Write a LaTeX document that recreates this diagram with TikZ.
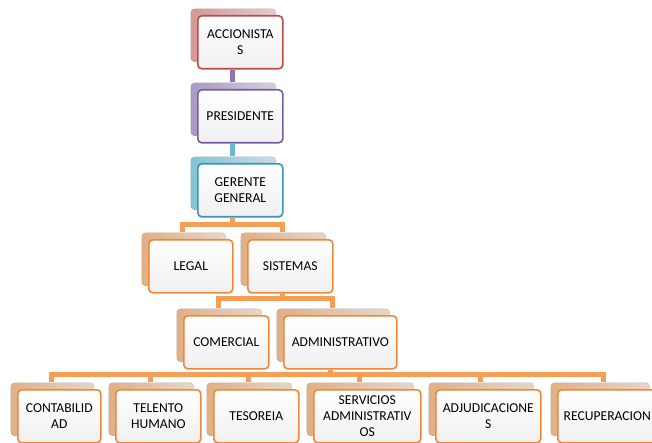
\documentclass[tikz,border=0pt]{standalone}
\usepackage{fontspec}
\setmainfont{Carlito}
\usetikzlibrary{calc,shadows,backgrounds}
\definecolor{redB}{RGB}{190,75,72}
\definecolor{redS1}{RGB}{235,165,165}
\definecolor{redS2}{RGB}{250,225,225}
\definecolor{purB}{RGB}{120,92,160}
\definecolor{purS1}{RGB}{185,168,215}
\definecolor{purS2}{RGB}{235,228,245}
\definecolor{bluB}{RGB}{55,150,185}
\definecolor{bluS1}{RGB}{145,215,235}
\definecolor{bluS2}{RGB}{222,243,250}
\definecolor{oraB}{RGB}{238,135,55}
\definecolor{oraS1}{RGB}{248,192,145}
\definecolor{oraS2}{RGB}{253,236,218}
\definecolor{purC}{RGB}{145,115,185}
\definecolor{bluC}{RGB}{105,185,215}
\definecolor{oraC}{RGB}{245,158,85}
\begin{document}
\begin{tikzpicture}[x=1pt,y=-1pt,
  box/.style n args={3}{draw=#1, line width=1.6pt, rounded corners=4pt,
    top color=white, bottom color=black!6, align=center,
    font=\fontsize{13.6}{16}\selectfont, inner sep=1pt, anchor=north west,
    minimum width=85pt, minimum height=53pt,
    copy shadow={shadow xshift=-7pt, shadow yshift=7pt, draw=none,
      left color=#2, right color=#3, opacity=0.9}},
  redbox/.style={box={redB}{redS1}{redS2}},
  purbox/.style={box={purB}{purS1}{purS2}},
  blubox/.style={box={bluB}{bluS1}{bluS2}},
  orabox/.style={box={oraB}{oraS1}{oraS2}},
  conn/.style={line width=5pt, draw=#1, line cap=butt, line join=miter},
]
\useasboundingbox (0,0) rectangle (652,443);
\clip (0,0) rectangle (652,443);

\node[redbox] (acc) at (197,15) {ACCIONISTA\\S};
\node[purbox] (pres) at (197,89) {PRESIDENTE};
\node[blubox] (ger) at (197,163) {GERENTE\\GENERAL};
\node[orabox, minimum width=84pt] (legal) at (148,239) {LEGAL};
\node[orabox] (sist) at (247,239) {SISTEMAS};
\node[orabox] (com) at (183,315) {COMERCIAL};
\node[orabox, minimum width=113pt] (adm) at (283,315) {ADMINISTRATIVO};
\node[orabox, minimum width=83pt] (cont) at (17,389) {CONTABILID\\AD};
\node[orabox] (tel) at (115,389) {TELENTO\\HUMANO};
\node[orabox] (tes) at (213,389) {TESOREIA};
\node[orabox, minimum width=107pt] (serv) at (313,389) {SERVICIOS\\ADMINISTRATIV\\OS};
\node[orabox, minimum width=105pt] (adj) at (435,389) {ADJUDICACIONE\\S};
\node[orabox, minimum width=99pt] (rec) at (557,389) {RECUPERACION};

\begin{scope}[on background layer]
\draw[conn=purC] ($(acc.south)+(-8,0)$) -- ($(pres.north)+(-8,-7)$);
\draw[conn=bluC] ($(pres.south)+(-8,0)$) -- ($(ger.north)+(-8,-7)$);
\draw[conn=oraC] ($(ger.south)+(-8,0)$) -- ++(0,7) -| ($(legal.north)+(-8,-7)$);
\draw[conn=oraC] ($(ger.south)+(-8,7)$) -| ($(sist.north)+(-8,-7)$);
\draw[conn=oraC] ($(sist.south)+(-8,0)$) -- ++(0,5) -| ($(com.north)+(-8,-7)$);
\draw[conn=oraC] ($(sist.south)+(-8,5)$) -| ($(adm.north)+(-8,-7)$);
\coordinate (bus) at ($(adm.south)+(-10,5)$);
\draw[conn=oraC] ($(adm.south)+(-10,0)$) -- (bus);
\foreach \n in {cont,tel,tes,serv,adj}
  \draw[conn=oraC] (bus) -| ($(\n.north)+(-8,-7)$);
\draw[conn=oraC] (bus) -| ($(rec.north)+(-4,-7)$);
\end{scope}
\end{tikzpicture}
\end{document}
